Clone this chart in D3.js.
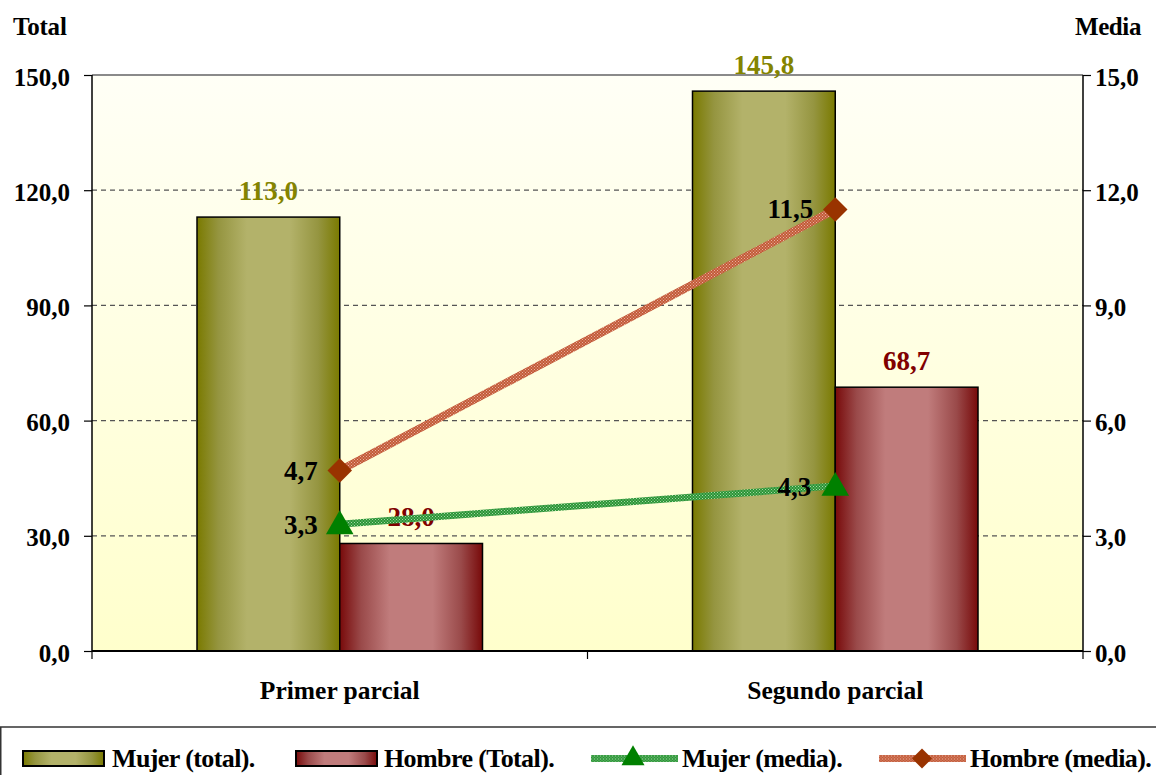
<!DOCTYPE html>
<html>
<head>
<meta charset="utf-8">
<script src="https://cdn.jsdelivr.net/npm/d3@7/dist/d3.min.js"></script>
<style>
  html, body { margin: 0; padding: 0; background: #fff; }
  svg { display: block; font-family: "Liberation Serif", "Times New Roman", serif; font-weight: bold; }
</style>
</head>
<body>
<svg id="chart" width="1156" height="775"></svg>
<script>
// Chart data
const categories = ["Primer parcial", "Segundo parcial"];
const mujerTotal = [113.0, 145.8];
const hombreTotal = [28.0, 68.7];
const mujerMedia = [3.3, 4.3];
const hombreMedia = [4.7, 11.5];
const leftTicks = [0, 30, 60, 90, 120, 150];
const rightTicks = [0, 3, 6, 9, 12, 15];

const fmt = v => v.toFixed(1).replace(".", ",");
const FONT = "Liberation Serif, Times New Roman, serif";

const svg = d3.select("#chart");
const plot = { left: 92, right: 1083, top: 75, bottom: 651 };

const yL = d3.scaleLinear().domain([0, 150]).range([plot.bottom, plot.top]);
const yR = d3.scaleLinear().domain([0, 15]).range([plot.bottom, plot.top]);
const x0 = d3.scaleBand().domain(categories).range([plot.left, plot.right]).padding(0);
const x1 = d3.scaleBand().domain(["mujer", "hombre"])
  .range([105, x0.bandwidth() - 105]).padding(0);
const cx = c => x0(c) + x0.bandwidth() / 2;

const defs = svg.append("defs");

// Plot background: pale ivory fading to light yellow
const bg = defs.append("linearGradient").attr("id", "bgGrad")
  .attr("x1", 0).attr("y1", 0).attr("x2", 0).attr("y2", 1);
bg.append("stop").attr("offset", "0%").attr("stop-color", "#fffff6");
bg.append("stop").attr("offset", "100%").attr("stop-color", "#ffffcc");

// Cylinder-like shading for the bars
function barGradient(id, edge, mid, light) {
  const g = defs.append("linearGradient").attr("id", id)
    .attr("x1", 0).attr("y1", 0).attr("x2", 1).attr("y2", 0);
  g.append("stop").attr("offset", "0%").attr("stop-color", edge);
  g.append("stop").attr("offset", "15%").attr("stop-color", mid);
  g.append("stop").attr("offset", "35%").attr("stop-color", light);
  g.append("stop").attr("offset", "65%").attr("stop-color", light);
  g.append("stop").attr("offset", "85%").attr("stop-color", mid);
  g.append("stop").attr("offset", "100%").attr("stop-color", edge);
}
barGradient("olive", "#7a7a00", "#959540", "#b3b26a");
barGradient("maroon", "#780a0a", "#9a4a4a", "#c07c7c");

// Textured stroke patterns for the mean lines
function texture(id, base, dot) {
  const p = defs.append("pattern").attr("id", id)
    .attr("patternUnits", "userSpaceOnUse").attr("width", 3).attr("height", 3);
  p.append("rect").attr("width", 3).attr("height", 3).attr("fill", base);
  p.append("rect").attr("x", 0).attr("y", 0).attr("width", 1).attr("height", 1).attr("fill", dot);
  p.append("rect").attr("x", 1.5).attr("y", 1.5).attr("width", 1).attr("height", 1).attr("fill", dot);
}
texture("greenTex", "#2a9436", "#a6d9a6");
texture("redTex", "#c25a38", "#eab0a0");

// Plot area
svg.append("rect")
  .attr("x", plot.left).attr("y", plot.top)
  .attr("width", plot.right - plot.left).attr("height", plot.bottom - plot.top)
  .attr("fill", "url(#bgGrad)");

// Gridlines
svg.append("g").selectAll("line")
  .data(leftTicks.filter(t => t > 0 && t < 150))
  .join("line")
  .attr("x1", plot.left).attr("x2", plot.right)
  .attr("y1", d => yL(d)).attr("y2", d => yL(d))
  .attr("stroke", "#555").attr("stroke-width", 1.2)
  .attr("stroke-dasharray", "5,4");
svg.append("line")
  .attr("x1", plot.left).attr("x2", plot.right)
  .attr("y1", yL(150)).attr("y2", yL(150))
  .attr("stroke", "#8a8a8a").attr("stroke-width", 2);

// Bars
const groups = svg.append("g").selectAll("g")
  .data(categories).join("g")
  .attr("transform", c => `translate(${x0(c)},0)`);

groups.append("rect")
  .attr("x", x1("mujer")).attr("width", x1.bandwidth())
  .attr("y", (c, i) => yL(mujerTotal[i]))
  .attr("height", (c, i) => yL(0) - yL(mujerTotal[i]))
  .attr("fill", "url(#olive)").attr("stroke", "#000").attr("stroke-width", 1.5);

groups.append("rect")
  .attr("x", x1("hombre")).attr("width", x1.bandwidth())
  .attr("y", (c, i) => yL(hombreTotal[i]))
  .attr("height", (c, i) => yL(0) - yL(hombreTotal[i]))
  .attr("fill", "url(#maroon)").attr("stroke", "#000").attr("stroke-width", 1.5);

// Bar value labels
groups.append("text")
  .attr("x", x1("mujer") + x1.bandwidth() / 2)
  .attr("y", (c, i) => yL(mujerTotal[i]) - 17)
  .attr("text-anchor", "middle").attr("font-size", 27).attr("fill", "#848400")
  .text((c, i) => fmt(mujerTotal[i]));
groups.append("text")
  .attr("x", x1("hombre") + x1.bandwidth() / 2)
  .attr("y", (c, i) => yL(hombreTotal[i]) - 17)
  .attr("text-anchor", "middle").attr("font-size", 27).attr("fill", "#800000")
  .text((c, i) => fmt(hombreTotal[i]));

// Axes
const axisL = d3.axisLeft(yL).tickValues(leftTicks).tickSize(8).tickFormat(fmt);
const axisR = d3.axisRight(yR).tickValues(rightTicks).tickSize(8).tickFormat(fmt);

function styleAxis(g) {
  g.select(".domain").remove();
  g.selectAll(".tick line").attr("stroke", "#000").attr("stroke-width", 1.2);
  g.selectAll(".tick text").attr("font-size", 25).attr("font-weight", "bold")
    .attr("font-family", FONT).attr("fill", "#000");
}
svg.append("g").attr("transform", `translate(${plot.left},0)`).call(axisL).call(styleAxis)
  .selectAll(".tick text").attr("x", -22).attr("dy", "0.4em");
svg.append("g").attr("transform", `translate(${plot.right},0)`).call(axisR).call(styleAxis)
  .selectAll(".tick text").attr("x", 12).attr("dy", "0.4em");

// Axis lines
svg.append("line").attr("x1", plot.left).attr("x2", plot.left)
  .attr("y1", plot.top).attr("y2", plot.bottom).attr("stroke", "#000").attr("stroke-width", 1.5);
svg.append("line").attr("x1", plot.right).attr("x2", plot.right)
  .attr("y1", plot.top).attr("y2", plot.bottom).attr("stroke", "#000").attr("stroke-width", 1.5);

// Category axis
const axisB = d3.axisBottom(x0).tickSize(0).tickPadding(0);
const gB = svg.append("g").attr("transform", `translate(0,${plot.bottom})`).call(axisB);
gB.select(".domain").remove();
gB.selectAll(".tick text").attr("y", 48).attr("dy", 0).attr("font-size", 25.5)
  .attr("font-weight", "bold").attr("font-family", FONT).attr("fill", "#000");
svg.append("line").attr("x1", plot.left).attr("x2", plot.right)
  .attr("y1", plot.bottom).attr("y2", plot.bottom).attr("stroke", "#000").attr("stroke-width", 2);
svg.append("g").selectAll("line")
  .data([plot.left, x0(categories[1]), plot.right]).join("line")
  .attr("x1", d => d).attr("x2", d => d)
  .attr("y1", plot.bottom).attr("y2", plot.bottom + 8)
  .attr("stroke", "#000").attr("stroke-width", 1.2);

// Axis titles
svg.append("text").attr("x", 13).attr("y", 35).attr("font-size", 25)
  .attr("letter-spacing", "-0.2").text("Total");
svg.append("text").attr("x", 1141).attr("y", 35).attr("font-size", 25)
  .attr("text-anchor", "end").attr("letter-spacing", "-0.4").text("Media");

// Mean lines
const line = d3.line().x(d => d[0]).y(d => d[1]);
const mujerPts = categories.map((c, i) => [cx(c), yR(mujerMedia[i])]);
const hombrePts = categories.map((c, i) => [cx(c), yR(hombreMedia[i])]);

svg.append("path").attr("d", line(hombrePts)).attr("fill", "none")
  .attr("stroke", "url(#redTex)").attr("stroke-width", 8);
svg.append("path").attr("d", line(mujerPts)).attr("fill", "none")
  .attr("stroke", "url(#greenTex)").attr("stroke-width", 7);

const diamond = d3.symbol().type(d3.symbolSquare).size(300);
const triangle = d3.symbol().type(d3.symbolTriangle).size(330);

svg.append("g").selectAll("path").data(hombrePts).join("path")
  .attr("d", diamond)
  .attr("transform", d => `translate(${d[0]},${d[1]}) rotate(45)`)
  .attr("fill", "#993300");
svg.append("g").selectAll("path").data(mujerPts).join("path")
  .attr("d", triangle)
  .attr("transform", d => `translate(${d[0]},${d[1] + 2})`)
  .attr("fill", "#008000");

// Mean value labels
svg.append("g").selectAll("text").data(hombrePts).join("text")
  .attr("x", d => d[0] - 22).attr("y", d => d[1] + 9)
  .attr("text-anchor", "end").attr("font-size", 27).attr("fill", "#000")
  .text((d, i) => fmt(hombreMedia[i]));
svg.append("g").selectAll("text").data(mujerPts).join("text")
  .attr("x", (d, i) => d[0] - (i === 0 ? 22 : 24)).attr("y", d => d[1] + 10)
  .attr("text-anchor", "end").attr("font-size", 27).attr("fill", "#000")
  .text((d, i) => fmt(mujerMedia[i]));

// Legend
const legendTop = 727;
svg.append("path")
  .attr("d", `M0.75,775 V${legendTop} H1156`)
  .attr("fill", "none").attr("stroke", "#333").attr("stroke-width", 1.5);

const legendItems = [
  { label: "Mujer (total).", kind: "bar", fill: "url(#olive)", x: 23, w: 81, tx: 112 },
  { label: "Hombre (Total).", kind: "bar", fill: "url(#maroon)", x: 296, w: 81, tx: 384 },
  { label: "Mujer (media).", kind: "line", stroke: "url(#greenTex)", color: "#008000", x: 591, w: 87, m: 42, tx: 682 },
  { label: "Hombre (media).", kind: "line", stroke: "url(#redTex)", color: "#993300", rotate: 45, x: 879, w: 87, m: 43, tx: 970 }
];
const ly = 758.5;
const lg = svg.append("g").selectAll("g").data(legendItems).join("g")
  .attr("transform", d => `translate(${d.x},${ly})`);

lg.filter(d => d.kind === "bar").append("rect")
  .attr("x", 0).attr("y", -7.5).attr("width", d => d.w).attr("height", 15)
  .attr("fill", d => d.fill).attr("stroke", "#000").attr("stroke-width", 2);
lg.filter(d => d.kind === "line").append("line")
  .attr("x1", 0).attr("x2", d => d.w).attr("y1", 0).attr("y2", 0)
  .attr("stroke", d => d.stroke).attr("stroke-width", 7);
lg.filter(d => d.kind === "line").append("path")
  .attr("d", d => d3.symbol().type(d.rotate ? d3.symbolSquare : d3.symbolTriangle).size(d.rotate ? 200 : 230)())
  .attr("transform", d => `translate(${d.m},${d.rotate ? 0 : 0}) rotate(${d.rotate || 0})`)
  .attr("fill", d => d.color);
lg.append("text")
  .attr("x", d => d.tx - d.x).attr("y", 8.5)
  .attr("font-size", 26).attr("fill", "#000").attr("letter-spacing", "-0.6")
  .text(d => d.label);
</script>
</body>
</html>
